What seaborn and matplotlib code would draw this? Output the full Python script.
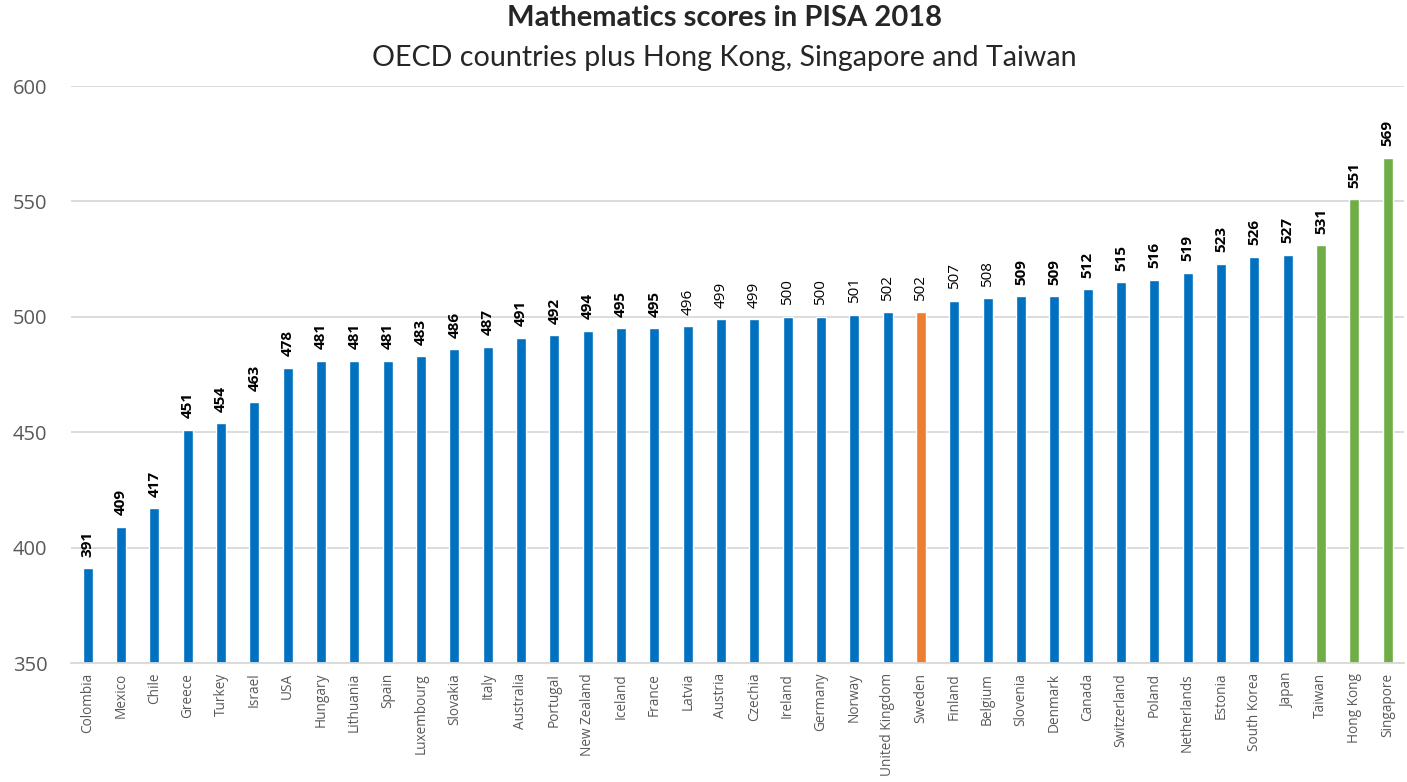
import pandas as pd
import matplotlib.pyplot as plt
import seaborn as sns

# PISA 2018 mathematics scores, sorted ascending
countries = ['Colombia', 'Mexico', 'Chile', 'Greece', 'Turkey', 'Israel', 'USA', 'Hungary',
             'Lithuania', 'Spain', 'Luxembourg', 'Slovakia', 'Italy', 'Australia', 'Portugal',
             'New Zealand', 'Iceland', 'France', 'Latvia', 'Austria', 'Czechia', 'Ireland',
             'Germany', 'Norway', 'United Kingdom', 'Sweden', 'Finland', 'Belgium', 'Slovenia',
             'Denmark', 'Canada', 'Switzerland', 'Poland', 'Netherlands', 'Estonia',
             'South Korea', 'Japan', 'Taiwan', 'Hong Kong', 'Singapore']
scores = [391, 409, 417, 451, 454, 463, 478, 481, 481, 481, 483, 486, 487, 491, 492,
          494, 495, 495, 496, 499, 499, 500, 500, 501, 502, 502, 507, 508, 509, 509,
          512, 515, 516, 519, 523, 526, 527, 531, 551, 569]
# labels not in bold in the original
plain_labels = ['Latvia', 'Austria', 'Czechia', 'Ireland', 'Germany', 'Norway',
                'United Kingdom', 'Sweden', 'Finland', 'Belgium']
highlight = {'Sweden': '#ED7D31', 'Taiwan': '#70AD47', 'Hong Kong': '#70AD47',
             'Singapore': '#70AD47'}

data = pd.DataFrame({'Country': countries, 'Score': scores})
palette = {c: highlight.get(c, '#0070C0') for c in countries}

sns.set_style('white')
plt.rcParams['font.family'] = ['Open Sans', 'DejaVu Sans']

fig, ax = plt.subplots(figsize=(14.07, 7.82), dpi=100)
fig.subplots_adjust(left=0.0505, right=0.998, top=0.89, bottom=0.152)

sns.barplot(data=data, x='Country', y='Score', hue='Country', palette=palette,
            width=0.3, saturation=1, legend=False, ax=ax, bottom=0)
ax.set_ylim(350, 600)
ax.set_xlim(-0.5, len(countries) - 0.5)
ax.set_yticks(range(350, 601, 50))
ax.yaxis.grid(True, color='#d9d9d9', linewidth=1.3)
ax.set_axisbelow(True)
for s in ['top', 'right', 'left']:
    ax.spines[s].set_visible(False)
ax.spines['bottom'].set_color('#d9d9d9')
ax.spines['bottom'].set_linewidth(1.3)
ax.tick_params(axis='y', labelsize=14.5, colors='#595959', length=0, pad=17)
ax.tick_params(axis='x', labelsize=9.8, colors='#595959', length=0, rotation=90, pad=7)
ax.set_xlabel('')
ax.set_ylabel('')

# value labels above each bar
for i, (c, v) in enumerate(zip(countries, scores)):
    ax.text(i, v + 5, str(v), rotation=90, ha='center', va='bottom', fontsize=11,
            fontweight='normal' if c in plain_labels else 'bold', color='black')

fig.text(0.515, 0.977, 'Mathematics scores in PISA 2018', ha='center', va='center',
         fontsize=21, fontweight='bold', family=['Lato', 'DejaVu Sans'])
fig.text(0.515, 0.926, 'OECD countries plus Hong Kong, Singapore and Taiwan', ha='center',
         va='center', fontsize=20.6, family=['Lato', 'DejaVu Sans'])

fig.savefig('out.png', dpi=100)
plt.close()
